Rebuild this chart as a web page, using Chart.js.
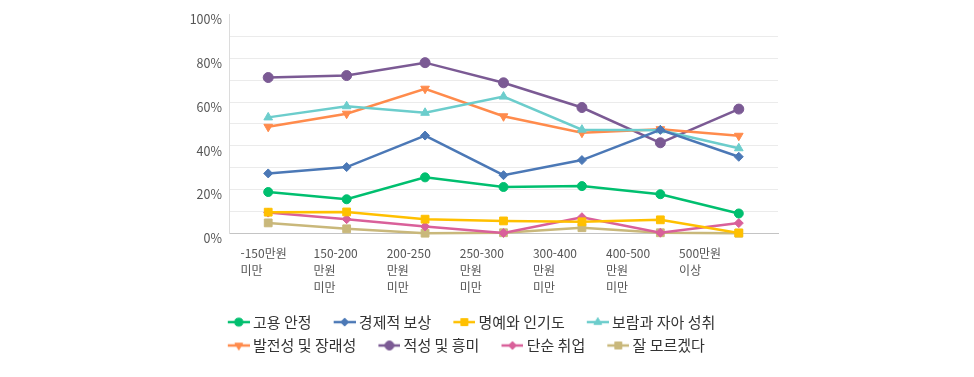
<!DOCTYPE html>
<html lang="ko">
<head>
<meta charset="utf-8">
<script src="https://cdn.jsdelivr.net/npm/chart.js@4/dist/chart.umd.min.js"></script>
<style>
  html, body { margin: 0; padding: 0; background: #fff; }
  #wrap { width: 974px; height: 377px; }
</style>
</head>
<body>
<div id="wrap"><canvas id="chart" width="974" height="377"></canvas></div>
<script>
// Data
const categories = [
  ['-150만원', '미만'],
  ['150-200', '만원', '미만'],
  ['200-250', '만원', '미만'],
  ['250-300', '만원', '미만'],
  ['300-400', '만원', '미만'],
  ['400-500', '만원', '미만'],
  ['500만원', '이상']
];
const seriesNames = ['고용 안정', '경제적 보상', '명예와 인기도', '보람과 자아 성취', '발전성 및 장래성', '적성 및 흥미', '단순 취업', '잘 모르겠다'];
const jobSecurity   = [18.9, 15.6, 25.6, 21.2, 21.6, 17.9, 9.1];
const payReward     = [27.4, 30.3, 44.7, 26.6, 33.5, 47.3, 35.0];
const honorFame     = [9.7, 9.8, 6.5, 5.7, 5.3, 6.2, 0.2];
const fulfillment   = [53.0, 58.1, 55.1, 62.5, 47.4, 47.1, 38.9];
const growth        = [48.7, 54.7, 66.1, 53.5, 46.0, 47.6, 44.6];
const aptitude      = [71.2, 72.1, 78.0, 68.8, 57.5, 41.4, 56.8];
const simpleJob     = [9.5, 6.5, 3.2, 0.2, 7.4, 0.3, 4.7];
const dontKnow      = [4.8, 2.1, 0.1, 0.3, 2.6, 0.3, 0.1];
const yTicks = [0, 20, 40, 60, 80, 100];

const seriesValues = [jobSecurity, payReward, honorFame, fulfillment, growth, aptitude, simpleJob, dontKnow];
const seriesColors = ['#00bf6f', '#4b78b6', '#ffc000', '#6ccdcc', '#ff8b4c', '#7b5a94', '#d9609a', '#c9b87b'];
const seriesStyles = [
  { style: 'circle',  r: 4.5, rot: 0 },
  { style: 'rectRot', r: 4.5, rot: 0 },
  { style: 'rect',    r: 5.5, rot: 0 },
  { style: 'triangle', r: 5, rot: 0 },
  { style: 'triangle', r: 5, rot: 180 },
  { style: 'circle',  r: 5,   rot: 0 },
  { style: 'rectRot', r: 4.5, rot: 0 },
  { style: 'rect',    r: 5.5, rot: 0 }
];

const textColor = '#555';
const fontFamily = '"Noto Sans CJK KR", "Noto Sans", sans-serif';

// legend icon: short line with the marker in the middle
function legendIcon(color, st) {
  const c = document.createElement('canvas');
  c.width = 40; c.height = 14;
  const ctx = c.getContext('2d');
  ctx.strokeStyle = color;
  ctx.fillStyle = color;
  ctx.lineWidth = 2.5;
  ctx.beginPath();
  ctx.moveTo(18, 7); ctx.lineTo(40, 7);
  ctx.stroke();
  ctx.lineWidth = 1;
  Chart.helpers.drawPoint(ctx, { pointStyle: st.style, rotation: st.rot, radius: st.r * 0.9, borderWidth: 1 }, 29, 7);
  return c;
}

// the legend starts a little right of the y labels
const legendShift = {
  id: 'legendShift',
  afterLayout(chart) {
    chart.legend.left += 21.7;
    chart.legend.right += 21.7;
  }
};

const datasets = seriesNames.map((name, i) => ({
  label: name,
  data: seriesValues[i],
  borderColor: seriesColors[i],
  backgroundColor: seriesColors[i],
  borderWidth: 2.5,
  pointStyle: seriesStyles[i].style,
  pointRotation: seriesStyles[i].rot,
  pointRadius: seriesStyles[i].r,
  pointBorderWidth: 1,
  pointBackgroundColor: seriesColors[i],
  pointBorderColor: seriesColors[i],
  tension: 0,
  clip: false
}));

new Chart(document.getElementById('chart'), {
  type: 'line',
  data: { labels: categories, datasets },
  plugins: [legendShift],
  options: {
    responsive: false,
    animation: false,
    layout: { padding: { left: 184, right: 196, top: 14, bottom: 14 } },
    font: { family: fontFamily },
    plugins: {
      tooltip: { enabled: false },
      legend: {
        position: 'bottom',
        align: 'start',
        labels: {
          usePointStyle: true,
          pointStyleWidth: 31.4,
          boxHeight: 15,
          padding: 8.4,
          color: '#333',
          font: { size: 15, family: fontFamily },
          generateLabels(chart) {
            const items = Chart.defaults.plugins.legend.labels.generateLabels(chart);
            items.forEach(it => {
              it.pointStyle = legendIcon(seriesColors[it.datasetIndex], seriesStyles[it.datasetIndex]);
              it.rotation = 0;
            });
            return items;
          }
        }
      }
    },
    scales: {
      x: {
        type: 'category',
        offset: true,
        weight: 0,
        grid: { display: false },
        border: { display: true, color: '#c4c4c4', width: 1 },
        ticks: { display: false },
        afterFit(scale) { scale.height = 0; }
      },
      xLabels: {
        type: 'linear',
        position: 'bottom',
        weight: 1,
        min: -0.157,
        max: 7.353,
        grid: { display: false },
        border: { display: false },
        ticks: {
          stepSize: 1,
          includeBounds: false,
          autoSkip: false,
          maxRotation: 0,
          align: 'start',
          padding: 4,
          color: textColor,
          font: { size: 12, family: fontFamily, lineHeight: 1.417 },
          callback: v => (Number.isInteger(v) && v >= 0 && v < categories.length) ? categories[v] : ''
        },
        afterFit(scale) { scale.height = 72.8; }
      },
      y: {
        min: 0,
        max: 100,
        grid: {
          drawTicks: false,
          color: c => (c.tick && c.tick.value === 100) ? 'rgba(0,0,0,0)' : '#ebebeb'
        },
        border: { display: true, color: '#dcdcdc', width: 1 },
        ticks: {
          stepSize: 10,
          autoSkip: false,
          padding: 7,
          labelOffset: 5,
          color: textColor,
          font: { size: 12.5, family: fontFamily },
          callback: v => yTicks.includes(v) ? v + '%' : ''
        },
        afterFit(scale) { scale.width = 45; }
      }
    }
  }
});
</script>
</body>
</html>
